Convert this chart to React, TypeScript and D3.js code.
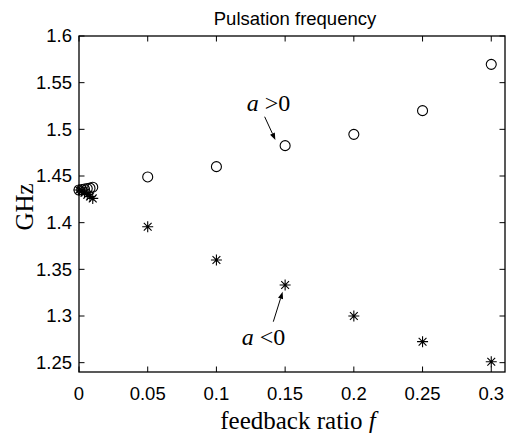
import React from "react";
import * as d3 from "d3";

// Data
const fCircle = [0, 0.002, 0.004, 0.006, 0.008, 0.01, 0.05, 0.1, 0.15, 0.2, 0.25, 0.3];
const vCircle = [1.435, 1.4355, 1.436, 1.4365, 1.437, 1.438, 1.449, 1.460, 1.4825, 1.4946, 1.520, 1.5696];
const fStar = [0, 0.002, 0.004, 0.006, 0.008, 0.01, 0.05, 0.1, 0.15, 0.2, 0.25, 0.3];
const vStar = [1.435, 1.434, 1.432, 1.430, 1.428, 1.426, 1.3957, 1.360, 1.3332, 1.300, 1.2725, 1.251];
const xTicks = [0, 0.05, 0.1, 0.15, 0.2, 0.25, 0.3];
const yTicks = [1.25, 1.3, 1.35, 1.4, 1.45, 1.5, 1.55, 1.6];
const title = "Pulsation frequency";
const yLabel = "GHz";

// annotations in data units: text pos, arrow from, arrow to
const annPos = { text: [0.122, 1.52], from: [0.1351, 1.5135], to: [0.1429, 1.4886] };
const annNeg = { text: [0.1184, 1.2689], from: [0.1414, 1.2939], to: [0.1482, 1.326] };

export default function App() {
  const W = 508, H = 433;
  const L = 79, R = 505, T = 36, B = 372;
  const x = d3.scaleLinear().domain([0, 0.31]).range([L, R]);
  const y = d3.scaleLinear().domain([1.24, 1.6]).range([B, T]);
  const sans = "'Liberation Sans', Arial, Helvetica, sans-serif";
  const serif = "'Liberation Serif', 'Times New Roman', Times, serif";
  const tickLen = 5.5;
  const fs = 18.5;
  const s = 5.5, dd = 3.9;
  const starPath = `M${-s},0L${s},0M0,${-s}L0,${s}M${-dd},${-dd}L${dd},${dd}M${-dd},${dd}L${dd},${-dd}`;

  const arrow = (a: { from: number[]; to: number[] }) => {
    const x1 = x(a.from[0]), y1 = y(a.from[1]), x2 = x(a.to[0]), y2 = y(a.to[1]);
    const ang = Math.atan2(y2 - y1, x2 - x1);
    const hl = 7, hw = 2.6;
    const bx = x2 - hl * Math.cos(ang), by = y2 - hl * Math.sin(ang);
    const px = -Math.sin(ang) * hw, py = Math.cos(ang) * hw;
    return (
      <g>
        <line x1={x1} y1={y1} x2={bx} y2={by} stroke="#000" strokeWidth={1} />
        <path d={`M${x2},${y2}L${bx + px},${by + py}L${bx - px},${by - py}Z`} fill="#000" />
      </g>
    );
  };

  return (
    <svg width={W} height={H} style={{ position: "absolute", left: 0, top: 0, background: "#fff" }}>
      <rect x={0} y={0} width={W} height={H} fill="#fff" />
      {/* title */}
      <text x={295} y={25} textAnchor="middle" fontFamily={sans} fontSize={fs}>{title}</text>
      {/* axes box */}
      <rect x={L} y={T} width={R - L} height={B - T} fill="none" stroke="#000" strokeWidth={1.3} />
      {/* x ticks */}
      {xTicks.map((t) => (
        <g key={"x" + t}>
          <line x1={x(t)} x2={x(t)} y1={B} y2={B - tickLen} stroke="#000" strokeWidth={1} />
          <line x1={x(t)} x2={x(t)} y1={T} y2={T + tickLen} stroke="#000" strokeWidth={1} />
          <text x={x(t)} y={400} textAnchor="middle" fontFamily={sans} fontSize={fs}>{String(t)}</text>
        </g>
      ))}
      {/* y ticks */}
      {yTicks.map((t) => (
        <g key={"y" + t}>
          <line x1={L} x2={L + tickLen} y1={y(t)} y2={y(t)} stroke="#000" strokeWidth={1} />
          <line x1={R} x2={R - tickLen} y1={y(t)} y2={y(t)} stroke="#000" strokeWidth={1} />
          <text x={72} y={y(t)} dy="0.35em" textAnchor="end" fontFamily={sans} fontSize={fs}>{String(t)}</text>
        </g>
      ))}
      {/* axis labels */}
      <text x={298} y={429} textAnchor="middle" fontFamily={serif} fontSize={25}>
        feedback ratio <tspan fontStyle="italic">f</tspan>
      </text>
      <text transform={`translate(33,207) rotate(-90)`} textAnchor="middle" fontFamily={serif} fontSize={25}>{yLabel}</text>
      {/* circles */}
      {fCircle.map((f, i) => (
        <circle key={"c" + i} cx={x(f)} cy={y(vCircle[i])} r={5} fill="none" stroke="#000" strokeWidth={1.1} />
      ))}
      {/* stars */}
      {fStar.map((f, i) => (
        <path key={"s" + i} d={starPath} transform={`translate(${x(f)},${y(vStar[i])})`} stroke="#000" strokeWidth={1.1} fill="none" />
      ))}
      {/* annotations */}
      <text x={x(annPos.text[0])} y={y(annPos.text[1])} fontFamily={serif} fontSize={24}>
        <tspan fontStyle="italic">a</tspan> &gt;0
      </text>
      {arrow(annPos)}
      <text x={x(annNeg.text[0])} y={y(annNeg.text[1])} fontFamily={serif} fontSize={24}>
        <tspan fontStyle="italic">a</tspan> &lt;0
      </text>
      {arrow(annNeg)}
    </svg>
  );
}
